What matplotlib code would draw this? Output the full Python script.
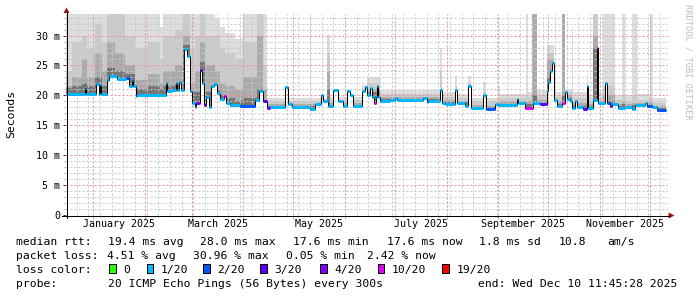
import datetime as dt
import numpy as np
import matplotlib
matplotlib.use("Agg")
import matplotlib.pyplot as plt
from matplotlib.lines import Line2D
from matplotlib.patches import Polygon, Rectangle

# ---------------- data (day offsets from 2024-12-15 00:00, values in ms) ----------------
med_day = [0.6, 11.8, 12.3, 18.6, 20.4, 21.0, 21.6, 25.0, 26.4, 31.4,
           36.4, 38.4, 40.4, 41.0, 42.4, 43.2, 60.4, 61.2, 64.2, 66.4,
           67.0, 68.4, 69.6, 71.4, 73.2, 75.0, 76.4, 77.7, 78.6, 81.0,
           82.4, 83.4, 84.4, 86.4, 87.4, 89.4, 91.0, 93.0, 95.6, 96.6,
           99.0, 105.0, 114.0, 116.4, 119.0, 121.0, 123.0, 132.0, 133.8, 136.0,
           147.0, 150.0, 153.6, 155.0, 157.6, 161.0, 164.0, 167.0, 169.0, 171.0,
           173.0, 178.0, 180.0, 181.0, 183.0, 184.2, 185.4, 186.3, 187.0, 188.0,
           189.0, 195.0, 198.0, 199.0, 200.0, 215.0, 217.0, 218.0, 225.0, 226.0,
           228.0, 234.0, 235.0, 240.0, 242.0, 243.6, 251.0, 252.4, 258.0, 260.0,
           271.0, 272.0, 276.0, 281.0, 285.0, 289.0, 290.0, 291.0, 292.0, 293.2,
           295.0, 298.0, 300.0, 301.0, 303.0, 304.0, 306.0, 307.0, 311.0, 313.0,
           314.0, 317.0, 319.0, 320.0, 324.0, 325.0, 327.0, 328.0, 332.0, 336.0,
           340.0, 342.0, 348.0, 349.0, 352.0, 355.0]
med_end = 360.6
med_ms = [20.3, 21.3, 20.3, 21.9, 20.3, 21.8, 20.3, 22.5, 23.2, 22.8,
          22.9, 21.5, 22.6, 21.5, 19.9, 20.1, 22.1, 20.7, 20.9, 22.0,
          20.9, 22.2, 20.9, 27.8, 26.5, 20.7, 18.8, 18.1, 18.8, 24.3,
          22.1, 18.4, 19.8, 18.1, 21.5, 21.9, 20.4, 19.4, 19.9, 18.8,
          18.4, 18.3, 19.3, 20.7, 19.0, 17.9, 18.0, 21.4, 18.6, 18.0,
          17.8, 18.5, 20.1, 19.0, 18.3, 20.9, 19.0, 18.2, 20.7, 20.0,
          18.2, 20.7, 21.4, 20.1, 21.2, 19.8, 18.8, 19.8, 21.5, 19.8,
          19.0, 19.3, 19.6, 19.3, 19.2, 19.5, 18.9, 19.1, 20.9, 18.8,
          18.6, 20.9, 18.7, 18.2, 21.6, 17.9, 20.1, 17.8, 18.5, 18.4,
          19.4, 18.7, 17.9, 18.7, 18.5, 20.7, 22.3, 24.0, 25.4, 19.3,
          18.2, 18.7, 20.6, 19.4, 19.1, 17.9, 19.1, 18.0, 17.8, 21.6,
          17.9, 19.3, 27.9, 18.8, 22.0, 18.8, 18.2, 18.5, 17.9, 18.1,
          17.8, 18.4, 18.7, 18.3, 18.1, 17.6]
med_loss = [1, 1, 1, 1, 1, 1, 1, 1, 1, 1,
            2, 1, 1, 1, 1, 1, 1, 1, 1, 1,
            1, 1, 1, 1, 1, 1, 1, 1, 4, 4,
            1, 3, 1, 1, 1, 1, 1, 1, 5, 1,
            1, 2, 1, 1, 3, 4, 1, 1, 1, 1,
            1, 1, 1, 1, 1, 1, 1, 1, 1, 1,
            1, 1, 1, 1, 1, 1, 5, 1, 1, 1,
            1, 1, 1, 1, 1, 1, 1, 1, 1, 1,
            1, 1, 1, 1, 1, 1, 1, 2, 1, 1,
            1, 1, 5, 1, 3, 1, 1, 1, 1, 1,
            1, 5, 1, 1, 1, 1, 1, 1, 3, 1,
            1, 1, 4, 1, 1, 2, 4, 1, 1, 1,
            1, 1, 1, 2, 1, 2]

smoke_day = [0.6, 4, 10, 13, 18, 22, 25, 30, 36, 42,
             50, 57, 59, 66, 71, 75, 78, 81, 84, 90,
             93, 96, 102, 107, 115, 119, 121, 147, 147.6, 157,
             159, 178, 181, 189, 225, 226, 234, 235, 242, 243.6,
             251, 252.4, 260, 261, 276.5, 278, 280, 283, 289, 293.2,
             298, 300, 304, 305, 313, 314, 317, 320, 323, 330,
             334, 336, 340, 343, 351, 352.5]
smoke_max = [33.6, 33.6, 33.6, 33.6, 33.6, 33.6, 33.6, 33.6, 33.6, 33.6,
             33.6, 31.5, 33.6, 33.6, 33.6, 33.6, 33.6, 33.6, 33.6, 32.7,
             31.5, 30.5, 29.5, 33.6, 33.6, 33.6, 19.6, 33.6, 19.6, 30.1,
             19.8, 21.7, 23.0, 20.9, 28.0, 20.5, 23.2, 20.3, 23.2, 19.6,
             22.3, 19.6, 21.5, 20.2, 33.6, 20.5, 33.6, 20.9, 28.5, 20.5,
             33.6, 21.0, 31.3, 20.5, 23.4, 20.0, 33.6, 20.5, 33.6, 20.0,
             33.6, 20.0, 33.6, 20.3, 33.6, 19.5]
smoke_p90 = [24.0, 29.0, 30.0, 28.0, 32.0, 29.0, 33.6, 33.6, 30.0, 28.0,
             29.0, 26.0, 30.0, 31.0, 33.6, 28.0, 30.0, 33.6, 30.0, 30.0,
             28.0, 27.0, 26.0, 29.0, 33.6, 25.0, 19.1, 19.1, 19.1, 27.0,
             19.2, 21.2, 22.0, 20.2, 24.0, 19.8, 21.5, 19.6, 22.0, 19.0,
             20.5, 19.0, 19.5, 19.6, 20.0, 19.8, 33.6, 20.0, 27.0, 19.8,
             33.6, 20.5, 21.0, 19.5, 22.0, 19.0, 33.6, 19.6, 21.5, 19.2,
             20.0, 19.0, 20.0, 19.3, 19.5, 18.8]
smoke_p75 = [21.5, 23.0, 26.0, 23.0, 27.0, 24.0, 29.0, 27.0, 25.0, 22.5,
             23.5, 22.0, 24.0, 25.0, 30.0, 22.0, 24.0, 29.0, 25.0, 24.0,
             22.0, 21.5, 21.0, 23.0, 30.0, 21.0, 18.6, 18.6, 18.6, 24.0,
             18.7, 20.9, 21.0, 19.7, 21.0, 19.2, 21.0, 19.0, 21.6, 18.4,
             20.1, 18.3, 18.8, 19.0, 19.0, 19.0, 33.6, 19.2, 26.0, 19.0,
             33.6, 20.0, 19.0, 18.8, 21.6, 18.5, 30.0, 19.0, 20.0, 18.6,
             19.0, 18.5, 18.8, 18.8, 18.8, 18.2]
smoke_p60 = [21.2, 21.5, 22.0, 21.5, 23.0, 21.5, 24.5, 24.0, 23.5, 21.0,
             21.5, 21.0, 21.5, 22.0, 28.5, 20.5, 20.5, 25.5, 20.5, 21.0,
             20.0, 19.5, 19.0, 19.5, 21.0, 19.0, 18.3, 18.3, 18.3, 21.0,
             18.3, 20.2, 20.5, 19.4, 20.0, 18.9, 19.5, 18.9, 19.5, 18.1,
             18.0, 18.0, 18.6, 18.6, 18.6, 18.6, 20.0, 18.7, 23.0, 18.6,
             20.0, 19.5, 18.5, 18.2, 19.0, 18.2, 28.0, 18.8, 19.0, 18.2,
             18.5, 18.2, 18.4, 18.4, 18.4, 17.9]

loss_labels = ["0", "1/20", "2/20", "3/20", "4/20", "10/20", "19/20"]
loss_colors = ["#26ff00", "#00b8ff", "#0059ff", "#5e00ff", "#7e00ff", "#dd00ff", "#ff0000"]

month_names = ["January 2025", "March 2025", "May 2025", "July 2025",
               "September 2025", "November 2025"]
ytick_vals = [0, 5, 10, 15, 20, 25, 30]
ytick_labels = ["0", "5 m", "10 m", "15 m", "20 m", "25 m", "30 m"]

legend_rows = [
    [(16, "median rtt:"), (107.7, "19.4 ms avg"), (200, "28.0 ms max"),
     (292.7, "17.6 ms min"), (386.7, "17.6 ms now"), (479.3, "1.8 ms sd"),
     (558.3, "10.8"), (607.7, "am/s")],
    [(16, "packet loss:"), (106.7, "4.51 % avg"), (192.7, "30.96 % max"),
     (286, "0.05 % min"), (366.7, "2.42 % now")],
    [(16, "loss color:")],
    [(16, "probe:"), (107.7, "20 ICMP Echo Pings (56 Bytes) every 300s"),
     (478.3, "end: Wed Dec 10 11:45:28 2025")],
]
box_x = [109.3, 146.7, 203.3, 260, 320, 377.7, 442.3]

# ---------------- figure ----------------
W, H, DPI = 697, 297, 100
fig = plt.figure(figsize=(W / DPI, H / DPI), dpi=DPI)
fig.patch.set_facecolor("white")
L, R, T, B = 66, 668, 14, 215
ax = fig.add_axes([L / W, 1 - B / H, (R - L) / W, (B - T) / H])
ax.set_facecolor("white")
XMIN, XMAX, YMAX = 0.6, 361.8, 33.6
ax.set_xlim(XMIN, XMAX)
ax.set_ylim(0, YMAX)
for s in ax.spines.values():
    s.set_visible(False)

PT = 72.0 / DPI  # points per pixel
MONO = "DejaVu Sans Mono"

# --- smoke ---
med_day_a = np.array(med_day)
med_ms_a = np.array(med_ms)
sm_day_a = np.array(smoke_day)
edges = np.unique(np.concatenate([med_day_a, sm_day_a, [med_end]]))
edges = edges[edges <= med_end]
lefts = edges[:-1]
mi = np.searchsorted(med_day_a, lefts, side="right") - 1
si = np.searchsorted(sm_day_a, lefts, side="right") - 1
med_u = med_ms_a[mi]
for arr, col in [(smoke_max, "#dddddd"), (smoke_p90, "#cbcbcb"),
                 (smoke_p75, "#ababab"), (smoke_p60, "#767676")]:
    lvl = np.minimum(np.array(arr)[si], YMAX)
    top = np.maximum(lvl, med_u)
    ax.stairs(top, edges, baseline=med_u, fill=True, color=col, lw=0, zorder=1)

# --- grid (on top of smoke), dotted lines ---
base = dt.date(2024, 12, 15)
month_starts = [(dt.date(2025, m, 1) - base).days for m in range(1, 13)]
month_next = month_starts[1:] + [(dt.date(2026, 1, 1) - base).days]
week_days = [d for d in range(7, int(XMAX) + 1, 7)]
dots = [(0, (2, 2))]
grid_kw = dict(linestyles=dots, lw=PT, snap=True)
ax.vlines(week_days, 0, YMAX, colors="#c8c8c8", zorder=2, **grid_kw)
minor_y = [v for v in range(1, 34) if v % 5 != 0]
ax.hlines(minor_y, XMIN, XMAX, colors="#c8c8c8", zorder=2, **grid_kw)
ax.vlines(month_starts, 0, YMAX, colors="#e89595", zorder=2.1, **grid_kw)
ax.hlines([5, 10, 15, 20, 25, 30], XMIN, XMAX, colors="#e89595", zorder=2.1, **grid_kw)

# --- median line (black step) and loss-coloured bands ---
med_edges = np.array(med_day + [med_end])
ax.stairs(med_ms_a, med_edges, baseline=None, color="#000000", lw=PT * 1.0, zorder=3)
ax.hlines(med_ms_a, med_edges[:-1], med_edges[1:],
          colors=[loss_colors[k] for k in med_loss], lw=PT * 3.0, zorder=4,
          capstyle="butt")

# --- ticks ---
ax.set_yticks(ytick_vals, ytick_labels)
ax.set_yticks(list(range(1, 34)), minor=True)
ax.set_xticks(month_starts, [""] * len(month_starts))
ax.set_xticks(week_days, minor=True)
ax.tick_params(axis="y", which="major", direction="out", length=3 * PT, width=PT,
               color="#404040", pad=3 * PT, labelsize=7.2)
ax.tick_params(axis="y", which="minor", direction="out", length=2 * PT, width=PT,
               color="#b0b0b0")
ax.tick_params(axis="x", which="major", direction="out", length=4 * PT, width=PT,
               color="#e89595")
ax.tick_params(axis="x", which="minor", direction="out", length=2.5 * PT, width=PT,
               color="#b0b0b0")
for lab in ax.get_yticklabels():
    lab.set_fontfamily(MONO)

# month labels at mid-month
label_months = [0, 2, 4, 6, 8, 10]
for name, mi_ in zip(month_names, label_months):
    mid = (month_starts[mi_] + month_next[mi_]) / 2.0
    ax.annotate(name, xy=(mid, 0), xycoords=("data", "axes fraction"),
                xytext=(0, -12.4 * PT), textcoords="offset points",
                ha="center", va="baseline", fontsize=7.2, family=MONO, color="black")

# --- axes lines with arrows (pixel helpers) ---
def fx(x):
    return x / W

def fy(y):
    return 1 - y / H

fig.add_artist(Line2D([fx(66.5), fx(66.5)], [fy(218), fy(12)], color="black", lw=PT))
fig.add_artist(Line2D([fx(62), fx(669)], [fy(215.5), fy(215.5)], color="black", lw=PT))
fig.add_artist(Polygon([(fx(63.5), fy(13)), (fx(69.5), fy(13)), (fx(66.5), fy(7.5))],
                       closed=True, color="#9a1010", lw=0))
fig.add_artist(Polygon([(fx(668.5), fy(212.5)), (fx(668.5), fy(218.5)), (fx(674.5), fy(215.5))],
                       closed=True, color="#9a1010", lw=0))

# --- labels ---
fig.text(fx(11), fy(114), "Seconds", rotation=90, ha="center", va="center",
         fontsize=8.2, family=MONO, color="black")
fig.text(fx(688), fy(4), "RRDTOOL / TOBI OETIKER", rotation=270, ha="center", va="top",
         fontsize=6.2, family=MONO, color="#bdbdbd")

# --- legend ---
baselines = [245.3, 259.3, 272.7, 287.0]
for row, yb in zip(legend_rows, baselines):
    for x, txt in row:
        fig.text(fx(x), fy(yb), txt, ha="left", va="baseline", fontsize=8.2,
                 family=MONO, color="black")
for bx, col, lab in zip(box_x, loss_colors, loss_labels):
    fig.add_artist(Rectangle((fx(bx), fy(272.7)), 6.7 / W, 8.7 / H, facecolor=col,
                             edgecolor="black", lw=PT))
    fig.text(fx(bx + 14), fy(baselines[2]), lab, ha="left", va="baseline",
             fontsize=8.2, family=MONO, color="black")

fig.savefig("out.png", dpi=DPI, facecolor="white")
